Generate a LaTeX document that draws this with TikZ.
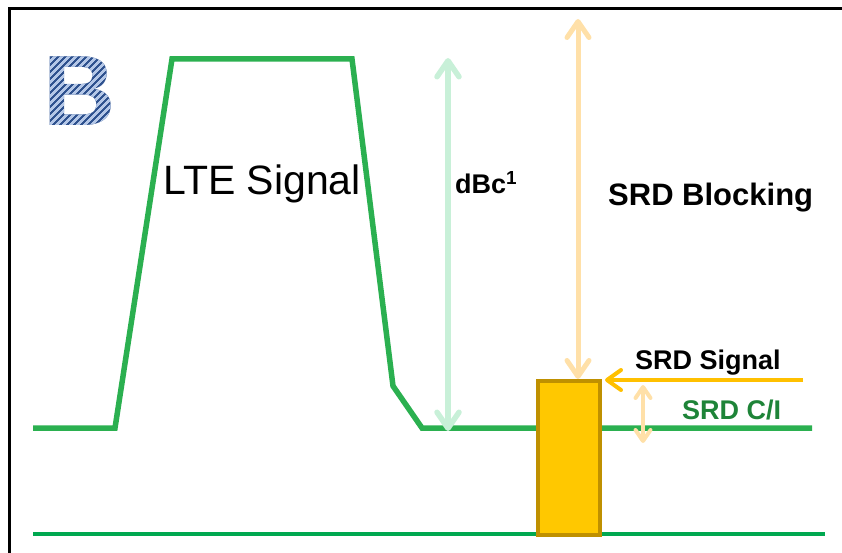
\documentclass[tikz,border=0pt]{standalone}
\usepackage{fontspec}
\setmainfont{Liberation Sans}
\usepackage{xcolor}
\definecolor{sggreen}{RGB}{43,176,80}
\definecolor{sgbase}{RGB}{0,168,80}
\definecolor{sglight}{RGB}{200,240,216}
\definecolor{sgorange}{RGB}{255,224,168}
\definecolor{sgyellow}{RGB}{255,192,0}
\definecolor{sgbox}{RGB}{255,200,0}
\definecolor{sgboxrim}{RGB}{191,144,0}
\definecolor{sgtext}{RGB}{30,132,56}
\definecolor{sgbdark}{RGB}{47,82,143}
\definecolor{sgblight}{RGB}{180,199,231}
\usetikzlibrary{arrows.meta,positioning,calc}

\tikzset{
  bletter/.style={inner sep=0pt, font=\fontsize{100}{100}\selectfont\bfseries},
  dimarrow/.style={line width=5pt, {Straight Barb[length=16pt, width=22pt, round]}-{Straight Barb[length=16pt, width=22pt, round]}},
  lbl/.style={anchor=base west, inner sep=0pt, font=\fontsize{27}{27}\selectfont\bfseries}
}

\begin{document}
\begin{tikzpicture}[x=1pt, y=-1pt]
  \useasboundingbox (0,0) rectangle (842,553);

  %% Frame
  \coordinate (fr_bl) at (9,553);
  \coordinate (fr_tl) at (9,9);
  \coordinate (fr_tr) at (842,9);
  \draw[line width=3pt, black] (fr_bl) -- (fr_tl) -- (fr_tr);

  %% Letter B (striped)
  \node[bletter, text=sgbdark] (b_lbl) at (80,91) {B};
  \foreach \s in {-40,-33,...,115} {
    \begin{scope}
      \clip (\s,135) -- (\s+85,50) -- (\s+88.5,50) -- (\s+3.5,135) -- cycle;
      \node[bletter, text=sgblight] at (80,91) {B};
    \end{scope}
  }

  %% LTE signal
  \coordinate (lte_a) at (33,428);
  \coordinate (lte_b) at (115,428);
  \coordinate (lte_c) at (172,59);
  \coordinate (lte_d) at (352,59);
  \coordinate (lte_e) at (393,386);
  \coordinate (lte_f) at (422,428);
  \coordinate (lte_g) at (812,428);
  \draw[line width=5.5pt, sggreen, line join=miter] (lte_a) -- (lte_b) -- (lte_c) -- (lte_d) -- (lte_e) -- (lte_f) -- (lte_g);
  \coordinate (base_a) at (33,534);
  \coordinate (base_b) at (825,534);
  \draw[line width=4pt, sgbase] (base_a) -- (base_b);

  %% SRD signal box
  \node[draw=sgboxrim, fill=sgbox, line width=4pt, minimum width=62pt, minimum height=154pt, inner sep=0pt] (srd) at (569,458) {};

  %% Arrows
  \coordinate (dbc_top) at (448,58);
  \coordinate (dbc_bot) at (448,431);
  \draw[dimarrow, line width=5.5pt, sglight] (dbc_bot) -- (dbc_top);
  \coordinate (blk_top) at (578,19);
  \draw[dimarrow, sgorange] (blk_top |- srd.north) -- (blk_top);
  \coordinate (sig_end) at (803,380);
  \coordinate (sig_tip) at (605,380);
  \draw[line width=4pt, sgyellow, -{Straight Barb[length=14pt, width=20pt, round]}] (sig_end) -- (sig_tip);
  \coordinate (ci_top) at (643,385);
  \coordinate (ci_bot) at (643,443);
  \draw[line width=4pt, sgorange, {Straight Barb[length=11pt, width=15pt, round]}-{Straight Barb[length=11pt, width=15pt, round]}] (ci_bot) -- (ci_top);

  %% Labels
  \node[anchor=base, inner sep=0pt, font=\fontsize{41}{41}\selectfont] (lte_lbl) at (262,195) {LTE Signal};
  \node[lbl] (dbc_lbl) at (455,194) {dBc\textsuperscript{1}};
  \node[lbl, font=\fontsize{31}{31}\selectfont\bfseries] (blk_lbl) at (608,206) {SRD Blocking};
  \node[lbl] (sig_lbl) at (635,369) {SRD Signal};
  \node[lbl, text=sgtext] (ci_lbl) at (682,419) {SRD C/I};
\end{tikzpicture}
\end{document}
